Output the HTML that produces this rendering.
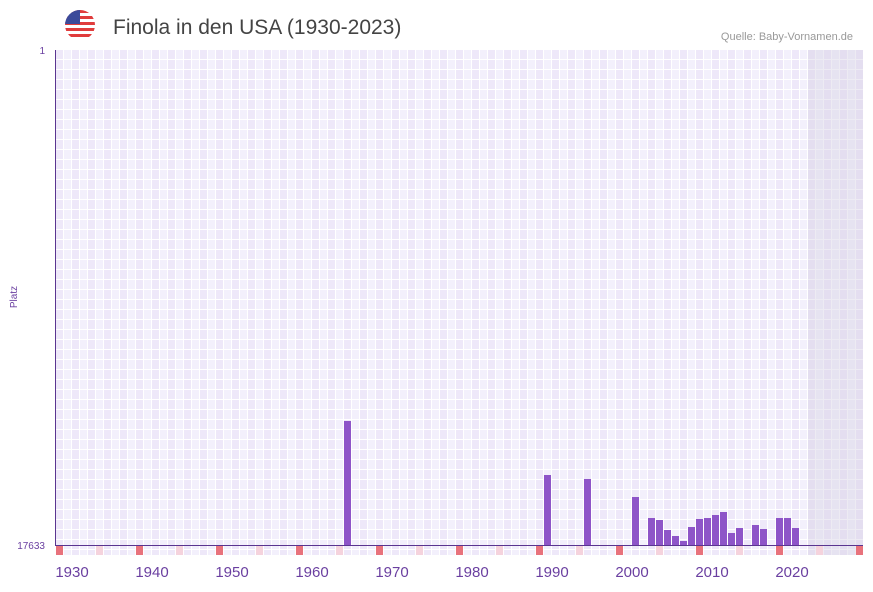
<!DOCTYPE html>
<html><head><meta charset="utf-8"><style>
body{margin:0;background:#fff;width:873px;height:587px;overflow:hidden;font-family:"Liberation Sans",sans-serif}
</style></head><body>
<svg width="873" height="587" xmlns="http://www.w3.org/2000/svg">
<defs>
<pattern id="g" x="56" y="50" width="16" height="10" patternUnits="userSpaceOnUse">
<rect width="16" height="10" fill="#eee8f9"/>
<rect x="8" width="8" height="10" fill="#f3f0fc"/>
<rect x="7" width="1" height="10" fill="#fff"/>
<rect x="15" width="1" height="10" fill="#fff"/>
<rect y="9" width="16" height="1" fill="#fff"/>
</pattern>
</defs>
<rect x="56" y="50" width="807" height="505" fill="url(#g)"/>
<rect x="808" y="50" width="55" height="505" fill="#d8d2e4" opacity="0.45"/>
<g fill="#e8727c">
<rect x="56" y="546" width="7" height="9"/><rect x="136" y="546" width="7" height="9"/><rect x="216" y="546" width="7" height="9"/><rect x="296" y="546" width="7" height="9"/><rect x="376" y="546" width="7" height="9"/><rect x="456" y="546" width="7" height="9"/><rect x="536" y="546" width="7" height="9"/><rect x="616" y="546" width="7" height="9"/><rect x="696" y="546" width="7" height="9"/><rect x="776" y="546" width="7" height="9"/><rect x="856" y="546" width="7" height="9"/>
</g>
<g fill="#f5d3dd">
<rect x="96" y="546" width="7" height="9"/><rect x="176" y="546" width="7" height="9"/><rect x="256" y="546" width="7" height="9"/><rect x="336" y="546" width="7" height="9"/><rect x="416" y="546" width="7" height="9"/><rect x="496" y="546" width="7" height="9"/><rect x="576" y="546" width="7" height="9"/><rect x="656" y="546" width="7" height="9"/><rect x="736" y="546" width="7" height="9"/><rect x="816" y="546" width="7" height="9"/>
</g>
<g fill="#8e55c8">
<rect x="344" y="421" width="7" height="124"/>
<rect x="544" y="475" width="7" height="70"/>
<rect x="584" y="479" width="7" height="66"/>
<rect x="632" y="497" width="7" height="48"/>
<rect x="648" y="518" width="7" height="27"/>
<rect x="656" y="520" width="7" height="25"/>
<rect x="664" y="530" width="7" height="15"/>
<rect x="672" y="536" width="7" height="9"/>
<rect x="680" y="541" width="7" height="4"/>
<rect x="688" y="527" width="7" height="18"/>
<rect x="696" y="519" width="7" height="26"/>
<rect x="704" y="518" width="7" height="27"/>
<rect x="712" y="515" width="7" height="30"/>
<rect x="720" y="512" width="7" height="33"/>
<rect x="728" y="533" width="7" height="12"/>
<rect x="736" y="528" width="7" height="17"/>
<rect x="752" y="525" width="7" height="20"/>
<rect x="760" y="529" width="7" height="16"/>
<rect x="776" y="518" width="7" height="27"/>
<rect x="784" y="518" width="7" height="27"/>
<rect x="792" y="528" width="7" height="17"/>
</g>
<line x1="55.5" y1="50" x2="55.5" y2="546" stroke="#5a3590" stroke-width="1"/>
<line x1="55" y1="545.5" x2="863" y2="545.5" stroke="#5a3590" stroke-width="1"/>
<g font-size="15" fill="#6a3fa0" text-anchor="middle">
<text x="72" y="577">1930</text><text x="152" y="577">1940</text><text x="232" y="577">1950</text><text x="312" y="577">1960</text><text x="392" y="577">1970</text><text x="472" y="577">1980</text><text x="552" y="577">1990</text><text x="632" y="577">2000</text><text x="712" y="577">2010</text><text x="792" y="577">2020</text>
</g>
<g font-size="10" fill="#6a3fa0" text-anchor="end">
<text x="45" y="54">1</text><text x="45" y="549">17633</text>
</g>
<text x="17" y="297" font-size="10" fill="#6a3fa0" text-anchor="middle" transform="rotate(-90 17 297)">Platz</text>
<text x="113" y="34" font-size="21" fill="#444">Finola in den USA (1930-2023)</text>
<text x="853" y="40" font-size="11" fill="#999" text-anchor="end">Quelle: Baby-Vornamen.de</text>
<clipPath id="c"><circle cx="80" cy="25" r="15"/></clipPath>
<g clip-path="url(#c)">
<rect x="65" y="10" width="30" height="30" fill="#fff"/>
<rect x="65" y="10" width="30" height="3" fill="#e03c3c"/>
<rect x="65" y="16" width="30" height="3" fill="#e03c3c"/>
<rect x="65" y="22" width="30" height="3" fill="#e03c3c"/>
<rect x="65" y="28" width="30" height="3" fill="#e03c3c"/>
<rect x="65" y="34" width="30" height="3" fill="#e03c3c"/>
<rect x="65" y="10" width="15" height="14" fill="#3b4a9a"/>
</g>
</svg>
</body></html>
